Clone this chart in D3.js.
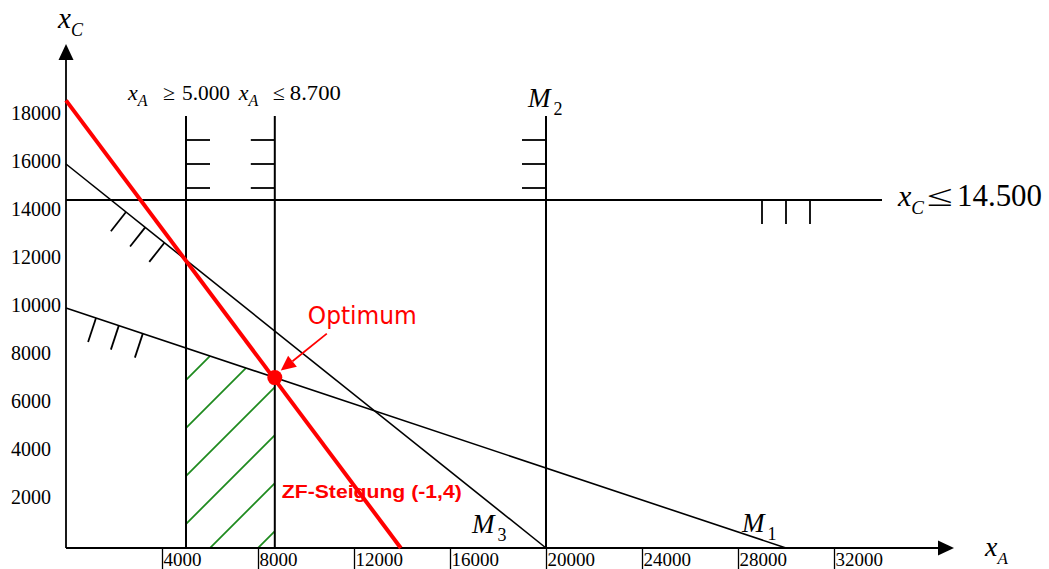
<!DOCTYPE html>
<html><head><meta charset="utf-8">
<script src="https://cdn.jsdelivr.net/npm/d3@7"></script>
<style>
html,body{margin:0;padding:0;background:#fff;}
svg{display:block;}
</style></head><body>
<svg id="chart" width="1049" height="569"></svg>
<script>
// Axis ticks
const xTicks = [4000, 8000, 12000, 16000, 20000, 24000, 28000, 32000];
const yTicks = [2000, 4000, 6000, 8000, 10000, 12000, 14000, 16000, 18000];

// Constraint boundaries (x_A, x_C)
const xAMin = 5000;                       // x_A >= 5.000
const xAMax = 8700;                       // x_A <= 8.700
const m2X = 20000;                        // M2, vertical capacity line
const xCMax = 14500;                      // x_C <= 14.500
const m1Line = [[0, 10000], [30000, 0]];  // M1
const m3Line = [[0, 16000], [20000, 0]];  // M3
const zfLine = [[0, 18650], [13950, 0]];  // objective function line
const optimum = [8700, 7100];

// Extents of the drawn lines
const xAxisEnd = 37000, yAxisEnd = 21000;
const verticalTop = 18000;
const horizontalEnd = 34000;

// Hatch marks showing the allowed side of each constraint
const verticalHatchY = [15000, 16000, 17000];
const horizontalHatchX = [29000, 30000, 31000];
const m3HatchX = [2500, 3300, 4100];
const m1HatchX = [1250, 2200, 3200];
const feasibleHatchOffsets = [-2000, 0, 2000, 4000, 6000, 8000];

const svg = d3.select("#chart");
const x = d3.scaleLinear().domain([0, xAxisEnd]).range([66, 954]);
const y = d3.scaleLinear().domain([0, yAxisEnd]).range([548, 44]);

const serif = "'Liberation Serif','Times New Roman',serif";
const black = "#000";
const red = "#ff0000";
const green = "#1e8a1e";

// Feasible region hatching (clipped to the polygon)
const m1At = v => m1Line[0][1] + (m1Line[1][1] - m1Line[0][1]) * v / m1Line[1][0];
const region = [[xAMin, 0], [xAMax, 0], [xAMax, m1At(xAMax)], [xAMin, m1At(xAMin)]];
svg.append("defs").append("clipPath").attr("id", "feasible")
  .append("path")
  .attr("d", "M" + region.map(p => [x(p[0]), y(p[1])].join(",")).join("L") + "Z");

svg.append("g").attr("clip-path", "url(#feasible)")
  .selectAll("line").data(feasibleHatchOffsets).join("line")
  .attr("x1", k => x(0)).attr("y1", k => y(0 - k))
  .attr("x2", k => x(20000)).attr("y2", k => y(20000 - k))
  .attr("stroke", green).attr("stroke-width", 1.8);

// Axes
const xAxis = d3.axisBottom(x).tickValues(xTicks).tickSize(21).tickFormat(d3.format("d"));
const gx = svg.append("g").attr("transform", `translate(0,${y(0)})`).call(xAxis);
gx.select(".domain").remove();
gx.selectAll(".tick line").attr("stroke", black).attr("stroke-width", 1.3);
gx.selectAll(".tick text")
  .attr("x", 1).attr("y", 18).attr("dy", 0)
  .attr("text-anchor", "start")
  .attr("font-family", serif).attr("font-size", 19).attr("fill", black);

const yAxis = d3.axisLeft(y).tickValues(yTicks).tickSize(0).tickFormat(d3.format("d"));
const gy = svg.append("g").attr("transform", `translate(${x(0)},0)`).call(yAxis);
gy.select(".domain").remove();
gy.selectAll(".tick text")
  .attr("x", -55).attr("y", -3).attr("dy", "0.33em")
  .attr("text-anchor", "start")
  .attr("font-family", serif).attr("font-size", 20).attr("fill", black);

svg.append("line")
  .attr("x1", x(0)).attr("y1", y(0)).attr("x2", x(xAxisEnd) - 16).attr("y2", y(0))
  .attr("stroke", black).attr("stroke-width", 1.8);
svg.append("line")
  .attr("x1", x(0)).attr("y1", y(0)).attr("x2", x(0)).attr("y2", y(yAxisEnd) + 16)
  .attr("stroke", black).attr("stroke-width", 1.8);
svg.append("path")
  .attr("d", `M${x(xAxisEnd)},${y(0)}L${x(xAxisEnd) - 16},${y(0) - 7.5}L${x(xAxisEnd) - 16},${y(0) + 7.5}Z`)
  .attr("fill", black);
svg.append("path")
  .attr("d", `M${x(0)},${y(yAxisEnd)}L${x(0) - 7.5},${y(yAxisEnd) + 16}L${x(0) + 7.5},${y(yAxisEnd) + 16}Z`)
  .attr("fill", black);

// Constraint lines
const lines = svg.append("g").attr("stroke", black).attr("fill", "none");
[xAMin, xAMax, m2X].forEach(v => {
  lines.append("line")
    .attr("x1", x(v)).attr("y1", y(0)).attr("x2", x(v)).attr("y2", y(verticalTop))
    .attr("stroke-width", 2);
});
lines.append("line")
  .attr("x1", x(0)).attr("y1", y(xCMax)).attr("x2", x(horizontalEnd)).attr("y2", y(xCMax))
  .attr("stroke-width", 2);
[m1Line, m3Line].forEach(l => {
  lines.append("line")
    .attr("x1", x(l[0][0])).attr("y1", y(l[0][1])).attr("x2", x(l[1][0])).attr("y2", y(l[1][1]))
    .attr("stroke-width", 1.6);
});

// Hatches
const hatch = svg.append("g").attr("stroke", black).attr("stroke-width", 1.8);
verticalHatchY.forEach(v => {
  hatch.append("line").attr("x1", x(xAMin)).attr("x2", x(xAMin + 1000)).attr("y1", y(v)).attr("y2", y(v));
  hatch.append("line").attr("x1", x(xAMax)).attr("x2", x(xAMax - 1000)).attr("y1", y(v)).attr("y2", y(v));
  hatch.append("line").attr("x1", x(m2X)).attr("x2", x(m2X - 1000)).attr("y1", y(v)).attr("y2", y(v));
});
horizontalHatchX.forEach(v => {
  hatch.append("line").attr("x1", x(v)).attr("x2", x(v)).attr("y1", y(xCMax)).attr("y2", y(xCMax - 1000));
});
const m3At = v => m3Line[0][1] + (m3Line[1][1] - m3Line[0][1]) * v / m3Line[1][0];
m3HatchX.forEach(v => {
  hatch.append("line").attr("x1", x(v)).attr("y1", y(m3At(v)))
    .attr("x2", x(v - 630)).attr("y2", y(m3At(v) - 800));
});
m1HatchX.forEach(v => {
  hatch.append("line").attr("x1", x(v)).attr("y1", y(m1At(v)))
    .attr("x2", x(v - 330)).attr("y2", y(m1At(v) - 1000));
});

// Objective function line and optimum
svg.append("line")
  .attr("x1", x(zfLine[0][0])).attr("y1", y(zfLine[0][1]))
  .attr("x2", x(zfLine[1][0])).attr("y2", y(zfLine[1][1]))
  .attr("stroke", red).attr("stroke-width", 4);
const ox = x(optimum[0]), oy = y(optimum[1]);
svg.append("circle").attr("cx", ox).attr("cy", oy).attr("r", 7.5).attr("fill", red);

// Arrow pointing at the optimum
const tip = [ox + 6, oy - 7], tail = [ox + 52, oy - 44];
const ang = Math.atan2(tip[1] - tail[1], tip[0] - tail[0]);
const headLen = 15, headW = 7;
const base = [tip[0] - headLen * Math.cos(ang), tip[1] - headLen * Math.sin(ang)];
svg.append("line").attr("x1", tail[0]).attr("y1", tail[1]).attr("x2", base[0]).attr("y2", base[1])
  .attr("stroke", red).attr("stroke-width", 1.8);
svg.append("path")
  .attr("d", `M${tip[0]},${tip[1]}L${base[0] + headW * Math.sin(ang)},${base[1] - headW * Math.cos(ang)}L${base[0] - headW * Math.sin(ang)},${base[1] + headW * Math.cos(ang)}Z`)
  .attr("fill", red);

svg.append("text").attr("x", ox + 33).attr("y", oy - 54)
  .attr("font-family", "'DejaVu Sans',sans-serif").attr("font-size", 24).attr("fill", red)
  .attr("textLength", 109).attr("lengthAdjust", "spacingAndGlyphs")
  .text("Optimum");

svg.append("text").attr("x", x(xAMax) + 7).attr("y", y(2000) - 2)
  .attr("font-family", "'Liberation Sans',Arial,sans-serif").attr("font-weight", "bold")
  .attr("font-size", 19).attr("fill", red)
  .attr("textLength", 180).attr("lengthAdjust", "spacingAndGlyphs")
  .text("ZF-Steigung (-1,4)");

// Italic variable with a subscript
function variable(px, py, main, sub, size, subSize, subDx) {
  const t = svg.append("text").attr("x", px).attr("y", py)
    .attr("font-family", serif).attr("fill", black);
  t.append("tspan").attr("font-style", "italic").attr("font-size", size).text(main);
  t.append("tspan").attr("font-style", main === "M" ? "normal" : "italic")
    .attr("font-size", subSize).attr("dy", size * 0.28).attr("dx", subDx || 0).text(sub);
}
// Plain text squeezed or stretched to a given width
function plain(px, py, s, size, width) {
  svg.append("text").attr("x", px).attr("y", py)
    .attr("font-family", serif).attr("font-size", size).attr("fill", black)
    .attr("textLength", width).attr("lengthAdjust", "spacingAndGlyphs")
    .text(s);
}

variable(x(0) - 8, 28, "x", "C", 29, 18);
variable(x(xAxisEnd) + 31, 556, "x", "A", 28, 17);

const topY = y(verticalTop) - 16;
variable(x(xAMin) - 58, topY, "x", "A", 22, 16);
plain(x(xAMin) - 23, topY, "≥", 21, 12);
plain(x(xAMin) - 4, topY, "5.000", 21, 48);
variable(x(xAMax) - 36, topY, "x", "A", 22, 16);
plain(x(xAMax) - 2, topY, "≤", 21, 12);
plain(x(xAMax) + 15, topY, "8.700", 21, 51);

const hY = y(xCMax) + 6;
variable(x(horizontalEnd) + 16, hY, "x", "C", 30, 19);
plain(x(horizontalEnd) + 45, hY, "≤", 30, 26);
plain(x(horizontalEnd) + 75, hY, "14.500", 31, 85);

variable(x(m2X) - 18, y(verticalTop) - 9, "M", "2", 27, 18, 3);
variable(x(m3Line[1][0]) - 74, y(0) - 15, "M", "3", 27, 18, 3);
variable(x(m1Line[1][0]) - 44, y(0) - 16, "M", "1", 27, 18, 3);
</script>
</body></html>
